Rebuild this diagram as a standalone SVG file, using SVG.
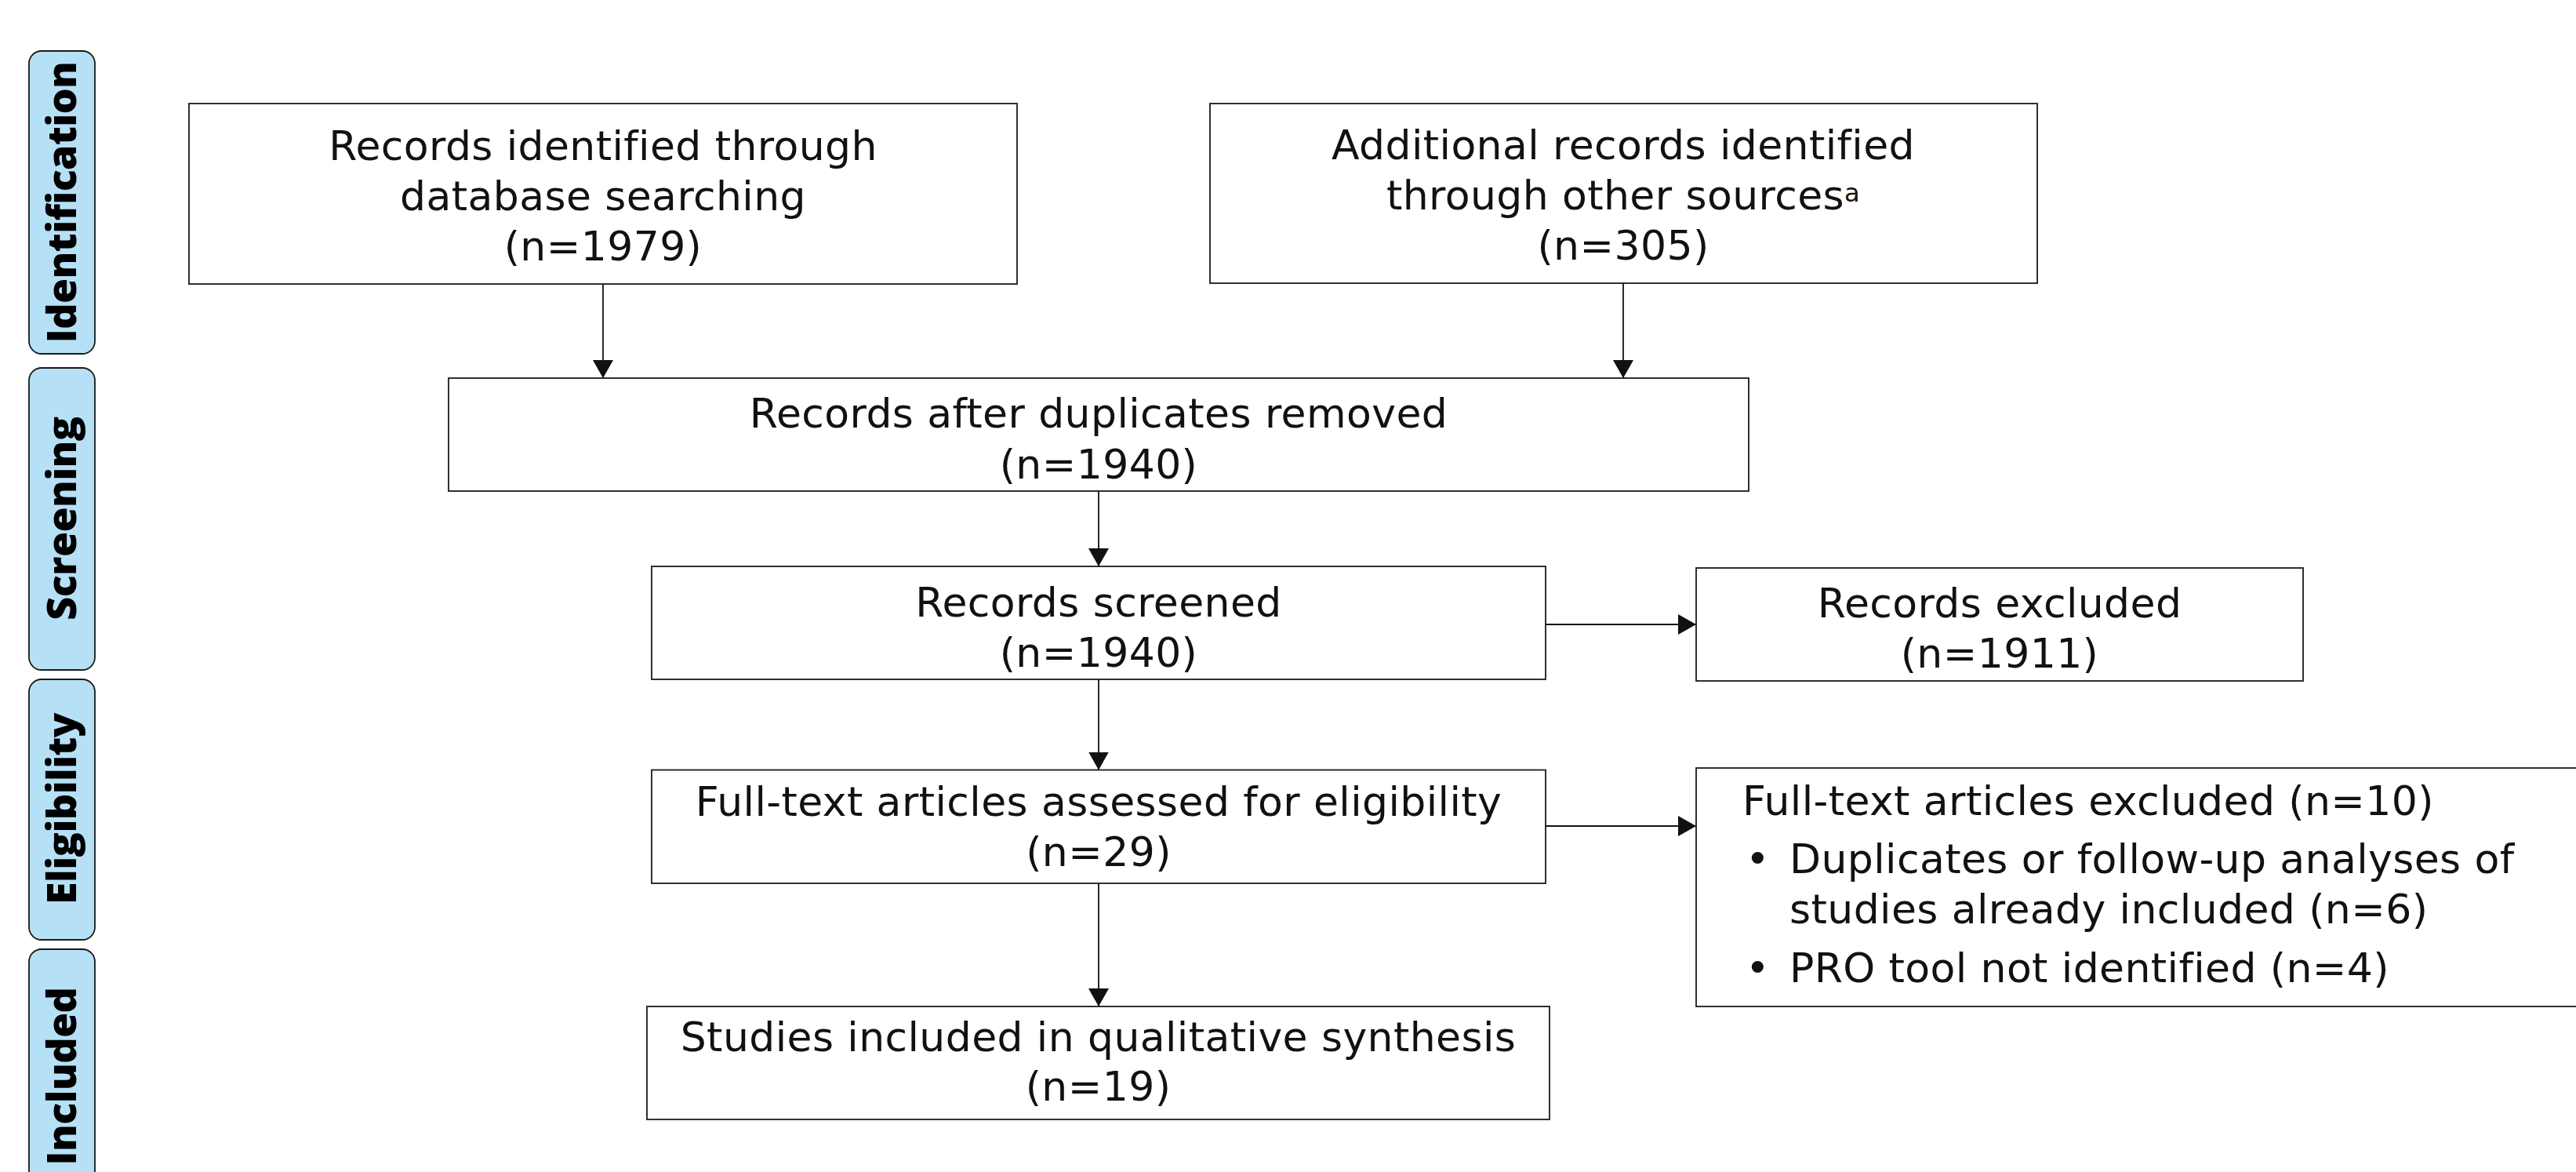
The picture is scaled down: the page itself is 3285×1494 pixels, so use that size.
<svg xmlns="http://www.w3.org/2000/svg" width="3285" height="1494" viewBox="0 0 3285 1494">
<style>
.bg{fill:#ffffff}
.box{fill:#ffffff;stroke:#1a1a1a;stroke-width:1.8}
.tab{fill:#b6e0f6;stroke:#1a1a1a;stroke-width:1.8}
.t{font-family:"DejaVu Sans","Liberation Sans",sans-serif;font-size:52px;fill:#111111;letter-spacing:0.4px}
.c{text-anchor:middle}
.tl{font-family:"Open Sans","DejaVu Sans",sans-serif;font-weight:800;font-size:52px;fill:#000000;text-anchor:middle;letter-spacing:-0.6px}
.sup{font-size:32px}
.con{stroke:#111111;stroke-width:1.8;fill:none}
</style>
<defs>
<marker id="ah" markerUnits="userSpaceOnUse" markerWidth="24" markerHeight="26" refX="23" refY="13" orient="auto">
<path d="M0,0 L23,13 L0,26 Z" fill="#111111"/>
</marker>
</defs>
<rect class="bg" x="0" y="0" width="3285" height="1494"/>

<g id="tab-identification">
<rect class="tab" x="37" y="65" width="84" height="386" rx="16" ry="16"/>
<text class="tl" transform="translate(78,258) rotate(-90)" y="19">Identification</text>
</g>
<g id="tab-screening">
<rect class="tab" x="37" y="469" width="84" height="385" rx="16" ry="16"/>
<text class="tl" transform="translate(78,661) rotate(-90)" y="19">Screening</text>
</g>
<g id="tab-eligibility">
<rect class="tab" x="37" y="866" width="84" height="332" rx="16" ry="16"/>
<text class="tl" transform="translate(78,1031) rotate(-90)" y="19">Eligibility</text>
</g>
<g id="tab-included">
<rect class="tab" x="37" y="1210" width="84" height="330" rx="16" ry="16"/>
<text class="tl" transform="translate(78,1372) rotate(-90)" y="19">Included</text>
</g>

<g id="connectors">
<line class="con" x1="769" y1="362" x2="769" y2="482" marker-end="url(#ah)"/>
<line class="con" x1="2070" y1="361" x2="2070" y2="482" marker-end="url(#ah)"/>
<line class="con" x1="1401" y1="626" x2="1401" y2="722" marker-end="url(#ah)"/>
<line class="con" x1="1971" y1="796" x2="2163" y2="796" marker-end="url(#ah)"/>
<line class="con" x1="1401" y1="866" x2="1401" y2="981.5" marker-end="url(#ah)"/>
<line class="con" x1="1971" y1="1053" x2="2163" y2="1053" marker-end="url(#ah)"/>
<line class="con" x1="1401" y1="1126" x2="1401" y2="1283" marker-end="url(#ah)"/>
</g>

<g id="node-database">
<rect class="box" x="241" y="132" width="1056" height="230"/>
<text class="t c" x="769" y="204">Records identified through</text>
<text class="t c" x="769" y="268">database searching</text>
<text class="t c" x="769" y="332">(n=1979)</text>
</g>
<g id="node-other">
<rect class="box" x="1543" y="132" width="1055" height="229"/>
<text class="t c" x="2070" y="203">Additional records identified</text>
<text class="t c" x="2070" y="267">through other sources<tspan class="sup" dy="-10">a</tspan></text>
<text class="t c" x="2070" y="331">(n=305)</text>
</g>
<g id="node-duplicates">
<rect class="box" x="572" y="482" width="1658" height="144"/>
<text class="t c" x="1401" y="545">Records after duplicates removed</text>
<text class="t c" x="1401" y="610">(n=1940)</text>
</g>
<g id="node-screened">
<rect class="box" x="831" y="722" width="1140" height="144"/>
<text class="t c" x="1401" y="786">Records screened</text>
<text class="t c" x="1401" y="850">(n=1940)</text>
</g>
<g id="node-excluded">
<rect class="box" x="2163" y="724" width="774" height="144"/>
<text class="t c" x="2550" y="787">Records excluded</text>
<text class="t c" x="2550" y="851">(n=1911)</text>
</g>
<g id="node-fulltext">
<rect class="box" x="831" y="981.5" width="1140" height="144.5"/>
<text class="t c" x="1401" y="1040">Full-text articles assessed for eligibility</text>
<text class="t c" x="1401" y="1104">(n=29)</text>
</g>
<g id="node-fulltext-excluded">
<rect class="box" x="2163" y="979" width="1200" height="304"/>
<text class="t" x="2222" y="1039">Full-text articles excluded (n=10)</text>
<text class="t" x="2226" y="1113">•</text>
<text class="t" x="2282" y="1113">Duplicates or follow-up analyses of</text>
<text class="t" x="2282" y="1177">studies already included (n=6)</text>
<text class="t" x="2226" y="1252">•</text>
<text class="t" x="2282" y="1252">PRO tool not identified (n=4)</text>
</g>
<g id="node-included">
<rect class="box" x="825" y="1283" width="1151" height="144"/>
<text class="t c" x="1400.5" y="1340">Studies included in qualitative synthesis</text>
<text class="t c" x="1400.5" y="1403">(n=19)</text>
</g>
</svg>
